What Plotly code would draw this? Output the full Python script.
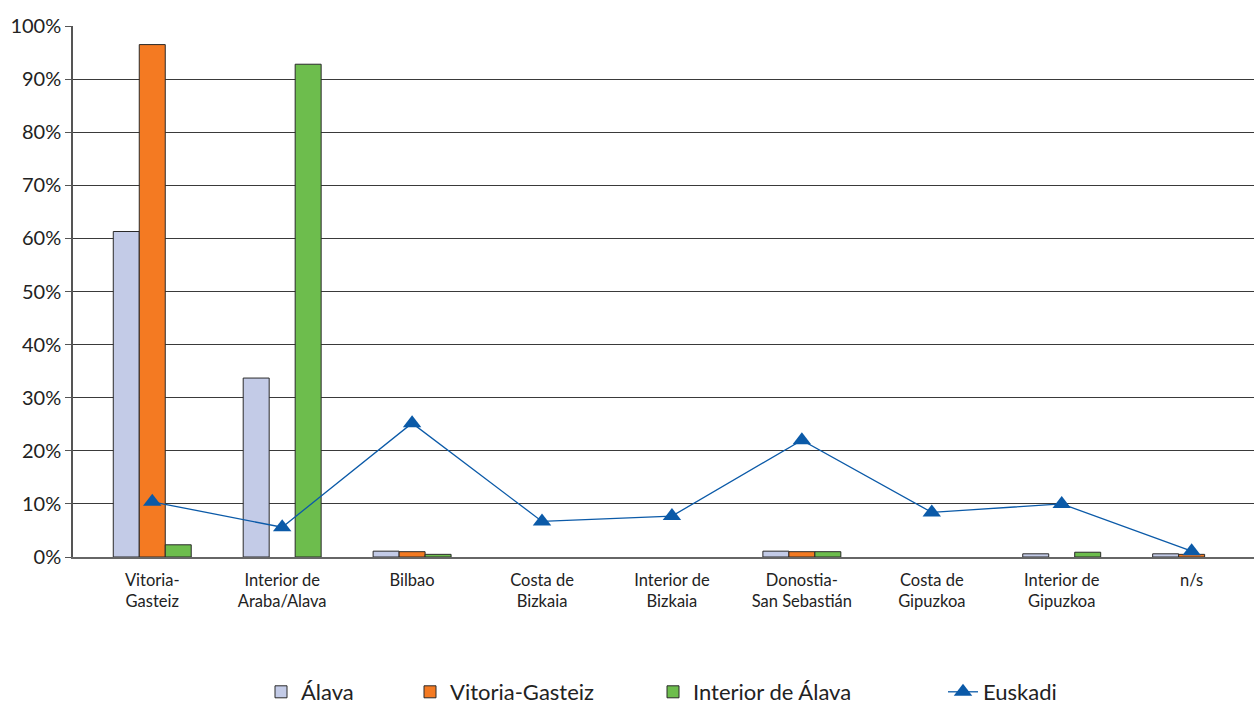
import plotly.graph_objects as go

categories = ["Vitoria-<br>Gasteiz", "Interior de<br>Araba/Alava", "Bilbao", "Costa de<br>Bizkaia",
              "Interior de<br>Bizkaia", "Donostia-<br>San Sebastián", "Costa de<br>Gipuzkoa",
              "Interior de<br>Gipuzkoa", "n/s"]
alava = [61.3, 33.7, 1.1, None, None, 1.1, None, 0.6, 0.6]
vitoria = [96.5, None, 1.0, None, None, 1.0, None, None, 0.5]
interior = [2.3, 92.8, 0.5, None, None, 1.0, None, 0.9, None]
euskadi = [10.4, 5.6, 25.2, 6.7, 7.7, 22.0, 8.4, 10.0, 1.1]
y_ticks = [0, 10, 20, 30, 40, 50, 60, 70, 80, 90, 100]

FONT = "Lato"
L, R, T, B = 73, 0, 26, 147
W, H = 1254, 704
pw = W - L - R
ph = H - T - B

def px_x(p):
    return (p - L) / pw

def px_y(p):
    return (H - B - p) / ph

outline = dict(color="#2a2a2a", width=1)
fig = go.Figure()
fig.add_bar(x=categories, y=alava, name="Álava", marker=dict(color="#c3cbe7", line=outline), legend="legend")
fig.add_bar(x=categories, y=vitoria, name="Vitoria-Gasteiz", marker=dict(color="#f47a22", line=outline), legend="legend2")
fig.add_bar(x=categories, y=interior, name="Interior de Álava", marker=dict(color="#6dbd4d", line=outline), legend="legend3")
fig.add_scatter(x=categories, y=euskadi, name="Euskadi", mode="lines+markers",
                line=dict(color="#0b5aa8", width=1.3),
                marker=dict(symbol="triangle-up", size=16, color="#0b5aa8"), legend="legend4")

leg_common = dict(orientation="h", yanchor="middle", xanchor="left", bgcolor="rgba(0,0,0,0)",
                  font=dict(family=FONT, size=22, color="#222222"), borderwidth=0)
legy = px_y(692)
fig.update_layout(
    width=W, height=H,
    margin=dict(l=L, r=R, t=T, b=B, autoexpand=False),
    paper_bgcolor="white", plot_bgcolor="white",
    barmode="group", bargap=0.4, bargroupgap=0,
    font=dict(family=FONT, color="#222222"),
    legend=dict(x=px_x(261), y=legy, **leg_common),
    legend2=dict(x=px_x(410), y=legy, **leg_common),
    legend3=dict(x=px_x(653), y=legy, **leg_common),
    legend4=dict(x=px_x(943), y=legy, **leg_common),
    xaxis=dict(range=[-0.61, 8.48], showline=True, linecolor="#666666", linewidth=1.5,
               ticks="", tickfont=dict(family=FONT, size=16.5, color="#222222"), showgrid=False,
               zeroline=False, automargin=False, ticklabelstandoff=7),
    yaxis=dict(range=[0, 100], tickvals=y_ticks, ticktext=[f"{v}%" for v in y_ticks],
               showline=True, linecolor="#555555", linewidth=1.5, ticks="outside", ticklen=6,
               tickcolor="#555555", showgrid=True, gridcolor="#3a3a3a", gridwidth=1,
               zeroline=False, automargin=False,
               tickfont=dict(family=FONT, size=20, color="#222222")),
    showlegend=True,
)
fig.write_html("out.html", config={"displayModeBar": False},
               post_script="document.body.style.margin='0';document.body.style.padding='0';document.body.style.overflow='hidden';")
